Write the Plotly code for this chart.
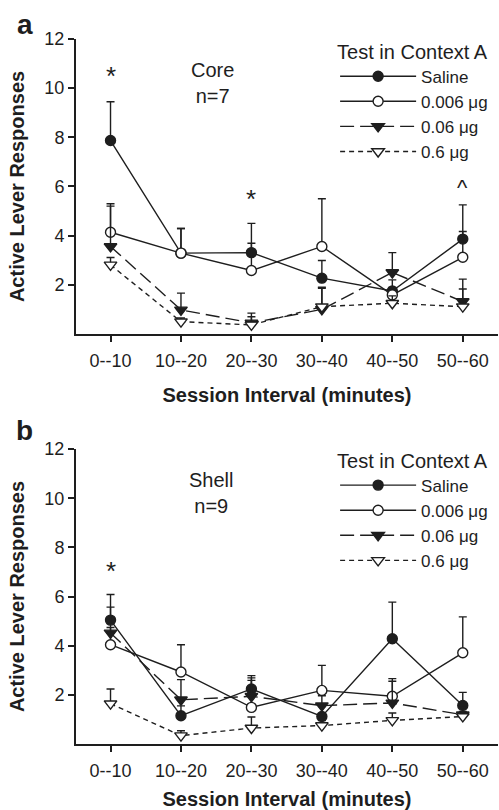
import plotly.graph_objects as go

categories = ["0--10", "10--20", "20--30", "30--40", "40--50", "50--60"]
series_names = ["Saline", "0.006 μg", "0.06 μg", "0.6 μg"]

# Panel a: Core (n=7)
core_saline = [7.87, 3.29, 3.31, 2.27, 1.75, 3.86]
core_saline_err = [1.58, 1.00, 1.19, 0.72, 0.45, 1.39]
core_006 = [4.14, 3.29, 2.58, 3.56, 1.59, 3.12]
core_006_err = [1.16, 1.00, 1.11, 1.94, 0.30, 1.05]
core_06 = [3.56, 0.98, 0.45, 1.00, 2.50, 1.32]
core_06_err = [1.64, 0.68, 0.40, 0.90, 0.81, 0.91]
core_6 = [2.81, 0.50, 0.37, 1.11, 1.25, 1.11]
core_6_err = [0.30, 0.15, 0.33, 0.75, 0.30, 0.72]

# Panel b: Shell (n=9)
shell_saline = [5.04, 1.15, 2.24, 1.12, 4.28, 1.57]
shell_saline_err = [1.04, 0.40, 0.54, 0.40, 1.49, 0.53]
shell_006 = [4.04, 2.93, 1.49, 2.18, 1.94, 3.71]
shell_006_err = [0.70, 1.11, 1.20, 1.02, 0.72, 1.46]
shell_06 = [4.52, 1.80, 1.94, 1.56, 1.67, 1.19]
shell_06_err = [1.05, 0.82, 0.65, 0.40, 0.88, 0.30]
shell_6 = [1.64, 0.34, 0.65, 0.75, 0.96, 1.12]
shell_6_err = [0.60, 0.20, 0.45, 0.20, 0.30, 0.20]

y_ticks = [2, 4, 6, 8, 10, 12]

INK = "#1e1e1e"
FONT = "Arial, 'Liberation Sans', sans-serif"

styles = [
    dict(symbol="circle", fill=INK, dash="solid"),
    dict(symbol="circle", fill="white", dash="solid"),
    dict(symbol="triangle-down", fill=INK, dash="14px,6px"),
    dict(symbol="triangle-down", fill="white", dash="5px,4px"),
]

fig = go.Figure()


def add_panel(values, errs, xa, ya, legend):
    for name, v, e, st in zip(series_names, values, errs, styles):
        fig.add_trace(go.Scatter(
            x=categories, y=v, name=name, mode="lines+markers",
            xaxis=xa, yaxis=ya, legend=legend, legendgroup=legend + name,
            line=dict(color=INK, width=1.4, dash=st["dash"]),
            marker=dict(symbol=st["symbol"], size=11 if "triangle" in st["symbol"] else 10,
                        color=st["fill"], line=dict(color=INK, width=1.4)),
            error_y=dict(type="data", array=e, arrayminus=[0] * len(e), symmetric=False,
                         color=INK, thickness=1.4, width=4),
        ))


add_panel([core_saline, core_006, core_06, core_6],
          [core_saline_err, core_006_err, core_06_err, core_6_err], "x", "y", "legend")
add_panel([shell_saline, shell_006, shell_06, shell_6],
          [shell_saline_err, shell_006_err, shell_06_err, shell_6_err], "x2", "y2", "legend2")

axis_common = dict(showline=True, linecolor=INK, linewidth=2, ticks="outside", ticklen=6,
                   tickwidth=1.5, tickcolor=INK, showgrid=False, zeroline=False,
                   tickfont=dict(size=18, color=INK, family=FONT))

xa = dict(axis_common, type="category", categoryorder="array", categoryarray=categories,
          range=[-0.49, 5.5], ticklabelstandoff=3)
xtitle_font = dict(size=20, color=INK, family=FONT)
ya = dict(axis_common, range=[0, 12], tickvals=y_ticks,
          title=dict(text="<b>Active Lever Responses</b>", font=dict(size=20, color=INK, family=FONT),
                     standoff=14))

legend_common = dict(font=dict(size=17, color=INK, family=FONT), bgcolor="rgba(0,0,0,0)",
                     itemwidth=76, tracegroupgap=0, xanchor="left", yanchor="top",
                     title=dict(text="Test in Context A", font=dict(size=20, color=INK, family=FONT)))

fig.update_layout(
    width=499, height=810,
    margin=dict(l=76, r=1, t=39, b=66),
    paper_bgcolor="white", plot_bgcolor="white",
    font=dict(family=FONT, color=INK),
    xaxis=dict(xa, domain=[0, 1], anchor="y",
               title=dict(text="<b>Session Interval (minutes)</b>", font=xtitle_font, standoff=18)),
    yaxis=dict(ya, domain=[0.5816, 1.0], anchor="x"),
    xaxis2=dict(xa, domain=[0, 1], anchor="y2",
                title=dict(text="<b>Session Interval (minutes)</b>", font=xtitle_font, standoff=14)),
    yaxis2=dict(ya, domain=[0.0, 0.4184], anchor="x2"),
    legend=dict(legend_common, x=0.614, y=1.009),
    legend2=dict(legend_common, x=0.614, y=0.429),
    showlegend=True,
)

annotations = [
    dict(text="<b>a</b>", xref="paper", yref="paper", x=-0.121, y=1.021, xanchor="center",
         yanchor="middle", showarrow=False, font=dict(size=28, color=INK)),
    dict(text="<b>b</b>", xref="paper", yref="paper", x=-0.121, y=0.444, xanchor="center",
         yanchor="middle", showarrow=False, font=dict(size=28, color=INK)),
    dict(text="Core<br>n=7", xref="x", yref="y", x=1.45, y=10.2, showarrow=False,
         font=dict(size=20, color=INK)),
    dict(text="Shell<br>n=9", xref="x2", yref="y2", x=1.43, y=10.2, showarrow=False,
         font=dict(size=20, color=INK)),
    dict(text="*", xref="x", yref="y", x=0, y=10.5, showarrow=False, font=dict(size=26, color=INK)),
    dict(text="*", xref="x", yref="y", x=2, y=5.5, showarrow=False, font=dict(size=26, color=INK)),
    dict(text="^", xref="x", yref="y", x=5, y=5.95, showarrow=False, font=dict(size=22, color=INK)),
    dict(text="*", xref="x2", yref="y2", x=0, y=7.05, showarrow=False, font=dict(size=26, color=INK)),
]
fig.update_layout(annotations=annotations)

fig.write_html("out.html", config={"displayModeBar": False},
               post_script="document.body.style.margin='0px';")
